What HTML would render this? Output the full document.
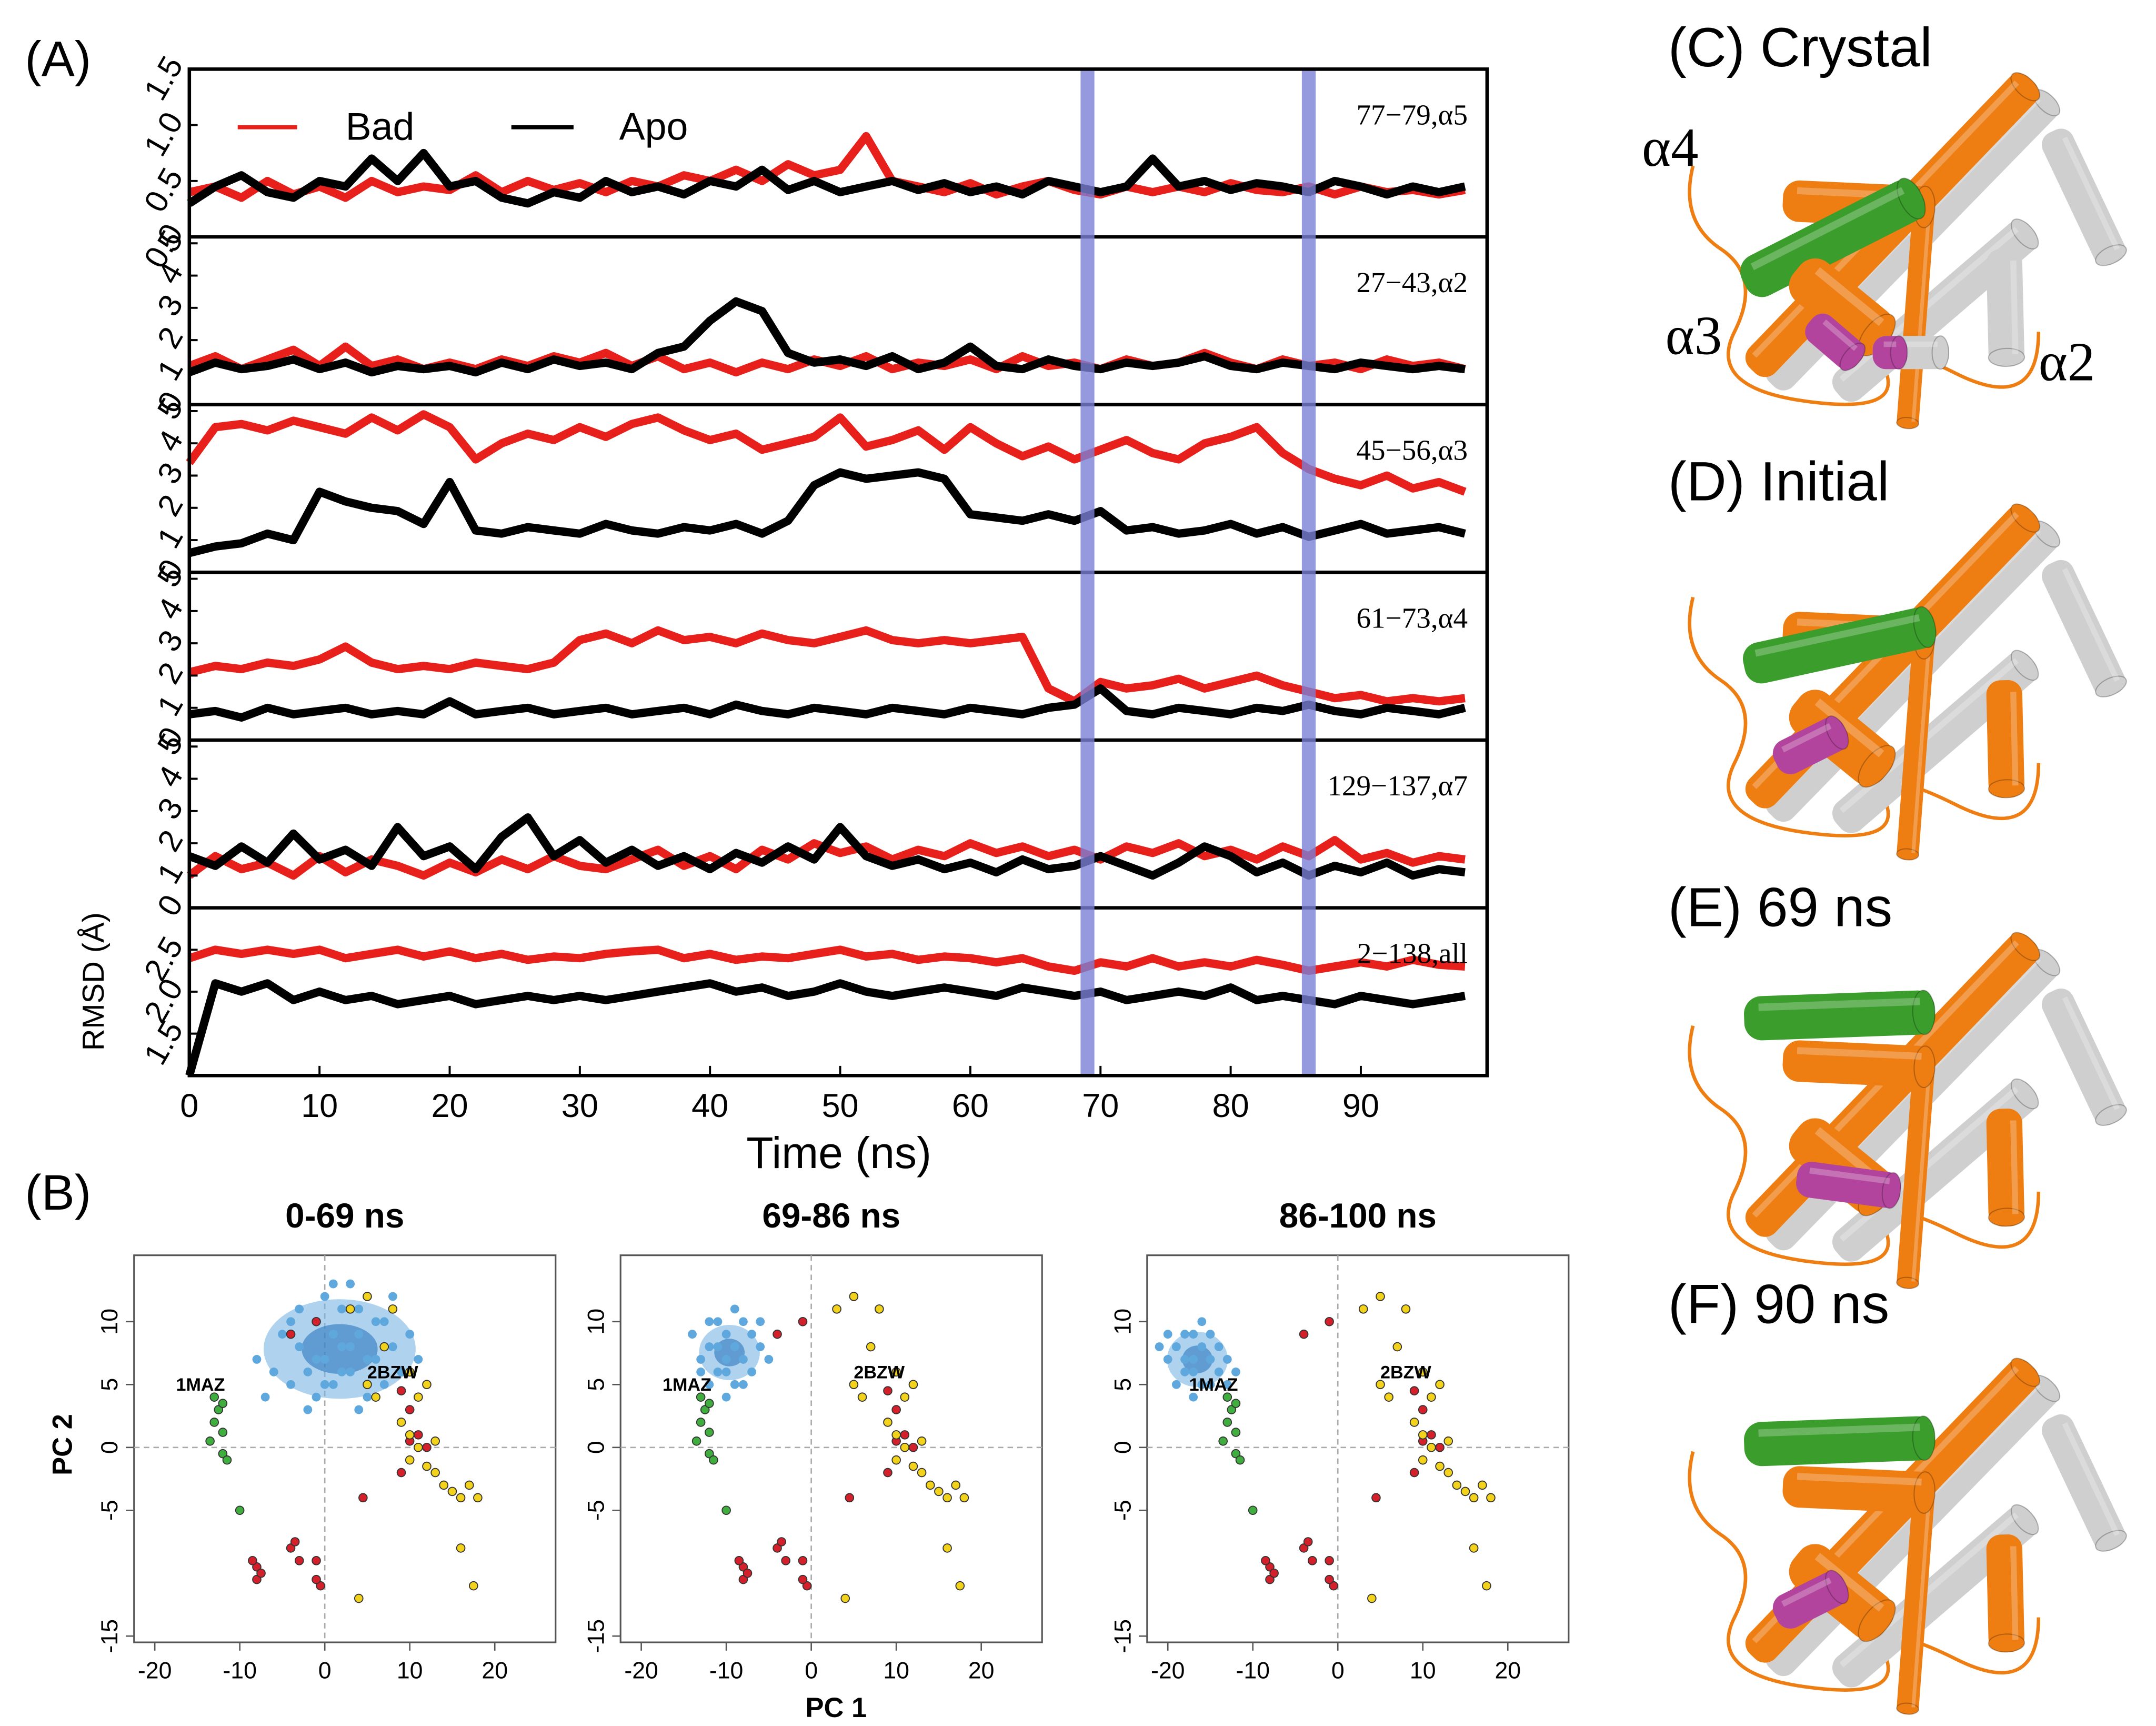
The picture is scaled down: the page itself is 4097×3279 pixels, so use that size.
<!DOCTYPE html>
<html><head><meta charset="utf-8"><style>
html,body{margin:0;padding:0;background:#fff;}
svg{display:block;font-family:"Liberation Sans",sans-serif;}
</style></head><body>
<svg id="fig" width="4097" height="3279" viewBox="0 0 1560 1248.5" xmlns="http://www.w3.org/2000/svg"></svg>
<script>
// ---------- Panel A data (t = 0,2,...,98 ns) ----------
const times=[0,2,4,6,8,10,12,14,16,18,20,22,24,26,28,30,32,34,36,38,40,42,44,46,48,50,52,54,56,58,60,62,64,66,68,70,72,74,76,78,80,82,84,86,88,90,92,94,96,98];
const a5Bad=[0.4,0.45,0.35,0.5,0.38,0.45,0.35,0.5,0.4,0.45,0.42,0.55,0.4,0.5,0.42,0.48,0.4,0.5,0.45,0.55,0.5,0.6,0.5,0.65,0.55,0.6,0.9,0.5,0.45,0.4,0.48,0.38,0.45,0.5,0.42,0.38,0.45,0.4,0.45,0.4,0.48,0.42,0.4,0.45,0.38,0.45,0.4,0.42,0.38,0.42];
const a5Apo=[0.3,0.45,0.55,0.4,0.35,0.5,0.45,0.7,0.5,0.75,0.45,0.5,0.35,0.3,0.4,0.35,0.5,0.4,0.45,0.38,0.5,0.45,0.6,0.42,0.5,0.4,0.45,0.5,0.42,0.48,0.4,0.45,0.38,0.5,0.45,0.4,0.45,0.7,0.45,0.5,0.42,0.48,0.45,0.4,0.5,0.45,0.38,0.45,0.4,0.45];
const a2Bad=[1.2,1.5,1.1,1.4,1.7,1.2,1.8,1.2,1.4,1.1,1.3,1.1,1.4,1.2,1.5,1.3,1.6,1.2,1.5,1.1,1.3,1.0,1.3,1.1,1.4,1.2,1.5,1.1,1.3,1.2,1.4,1.1,1.5,1.2,1.3,1.1,1.4,1.2,1.3,1.6,1.3,1.1,1.4,1.2,1.3,1.1,1.4,1.2,1.3,1.1];
const a2Apo=[1.0,1.3,1.1,1.2,1.4,1.1,1.3,1.0,1.2,1.1,1.2,1.0,1.3,1.1,1.4,1.2,1.3,1.1,1.6,1.8,2.6,3.2,2.9,1.6,1.3,1.4,1.2,1.5,1.1,1.3,1.8,1.2,1.1,1.4,1.2,1.1,1.3,1.2,1.3,1.5,1.2,1.1,1.3,1.2,1.1,1.3,1.2,1.1,1.2,1.1];
const a3Bad=[3.4,4.5,4.6,4.4,4.7,4.5,4.3,4.8,4.4,4.9,4.5,3.5,4.0,4.3,4.1,4.5,4.2,4.6,4.8,4.4,4.1,4.3,3.8,4.0,4.2,4.8,3.9,4.1,4.4,3.8,4.5,4.0,3.6,3.9,3.5,3.8,4.1,3.7,3.5,4.0,4.2,4.5,3.7,3.2,2.9,2.7,3.0,2.6,2.8,2.5];
const a3Apo=[0.6,0.8,0.9,1.2,1.0,2.5,2.2,2.0,1.9,1.5,2.8,1.3,1.2,1.4,1.3,1.2,1.5,1.3,1.2,1.4,1.3,1.5,1.2,1.6,2.7,3.1,2.9,3.0,3.1,2.9,1.8,1.7,1.6,1.8,1.6,1.9,1.3,1.4,1.2,1.3,1.5,1.2,1.4,1.1,1.3,1.5,1.2,1.3,1.4,1.2];
const a4Bad=[2.1,2.3,2.2,2.4,2.3,2.5,2.9,2.4,2.2,2.3,2.2,2.4,2.3,2.2,2.4,3.1,3.3,3.0,3.4,3.1,3.2,3.0,3.3,3.1,3.0,3.2,3.4,3.1,3.0,3.1,3.0,3.1,3.2,1.6,1.2,1.8,1.6,1.7,1.9,1.6,1.8,2.0,1.7,1.5,1.3,1.4,1.2,1.3,1.2,1.3];
const a4Apo=[0.8,0.9,0.7,1.0,0.8,0.9,1.0,0.8,0.9,0.8,1.2,0.8,0.9,1.0,0.8,0.9,1.0,0.8,0.9,1.0,0.8,1.1,0.9,0.8,1.0,0.9,0.8,1.0,0.9,0.8,1.0,0.9,0.8,1.0,1.1,1.6,0.9,0.8,1.0,0.9,0.8,1.0,0.9,1.1,0.9,0.8,1.0,0.9,0.8,1.0];
const a7Bad=[1.0,1.6,1.2,1.4,1.0,1.6,1.1,1.5,1.3,1.0,1.4,1.1,1.5,1.2,1.6,1.3,1.2,1.5,1.8,1.3,1.6,1.2,1.8,1.5,2.0,1.7,1.9,1.5,1.8,1.6,2.0,1.7,1.9,1.6,1.8,1.5,1.9,1.7,2.0,1.6,1.8,1.5,1.9,1.6,2.1,1.5,1.7,1.4,1.6,1.5];
const a7Apo=[1.6,1.3,1.9,1.4,2.3,1.5,1.8,1.3,2.5,1.6,1.9,1.2,2.2,2.8,1.6,2.1,1.4,1.8,1.3,1.6,1.2,1.7,1.4,1.9,1.5,2.5,1.6,1.3,1.5,1.2,1.4,1.1,1.5,1.2,1.3,1.6,1.3,1.0,1.4,1.9,1.6,1.1,1.4,1.0,1.3,1.1,1.4,1.0,1.2,1.1];
const allBad=[2.4,2.5,2.45,2.5,2.45,2.5,2.4,2.45,2.5,2.42,2.48,2.4,2.45,2.38,2.42,2.4,2.45,2.48,2.5,2.4,2.45,2.38,2.42,2.4,2.45,2.5,2.42,2.45,2.38,2.42,2.4,2.35,2.4,2.3,2.25,2.35,2.3,2.4,2.3,2.35,2.3,2.38,2.32,2.25,2.3,2.35,2.3,2.38,2.32,2.3];
const allApo=[1.0,2.1,2.0,2.1,1.9,2.0,1.9,1.95,1.85,1.9,1.95,1.85,1.9,1.95,1.9,1.95,1.9,1.95,2.0,2.05,2.1,2.0,2.05,1.95,2.0,2.1,2.0,1.95,2.0,2.05,2.0,1.95,2.05,2.0,1.95,2.0,1.9,1.95,2.0,1.95,2.05,1.9,1.95,1.9,1.85,1.95,1.9,1.85,1.9,1.95];
const panelLabels=["77\u221279,\u03b15","27\u221243,\u03b12","45\u221256,\u03b13","61\u221273,\u03b14","129\u2212137,\u03b17","2\u2212138,all"];
const xTicks=[0,10,20,30,40,50,60,70,80,90];
const bands=[69,86];
// ---------- Panel B data ----------
const greenPts=[[-13,4],[-12.5,3],[-13,2],[-12,1.2],[-13.5,0.5],[-12,-0.5],[-11.5,-1],[-12,3.5],[-10,-5]];
const redPts=[[-4,9],[-1,10],[9,4.5],[10,3],[11,1],[12,0],[10,0.5],[4.5,-4],[-8,-9.5],[-8,-10.5],[-7.5,-10],[-4,-8],[-3,-9],[-3.5,-7.5],[-1,-9],[-0.5,-11],[-1,-10.5],[9,-2],[-8.5,-9]];
const yellowPts=[[3,11],[5,12],[8,11],[7,8],[10,6],[11,4],[9,2],[10,1],[11,0],[10,-1],[12,-1.5],[13,-2],[14,-3],[15,-3.5],[17,-3],[16,-4],[18,-4],[16,-8],[17.5,-11],[4,-12],[5,5],[6,4],[12,5],[13,0.5]];
const blue1=[[0,7],[2,8],[-2,6],[4,9],[1,5],[3,6],[-3,8],[5,7],[6,10],[-1,10],[2,11],[-4,5],[7,5],[8,8],[-5,9],[0,12],[3,13],[-6,6],[9,6],[-7,4],[10,9],[5,12],[-2,3],[4,3],[8,12],[1,9],[-1,7],[2,6],[3,8],[0,5],[6,7],[-3,11],[7,10],[-8,7],[11,7],[1,13],[4,11],[-4,10],[5,4],[-1,4]];
const blue2=[[-10,7],[-9,8],[-11,6],[-8,7],[-12,8],[-10,9],[-9,5],[-7,9],[-13,7],[-11,10],[-8,10],[-6,8],[-12,5],[-10,4],[-14,9],[-7,6],[-9,11],[-11,8],[-10,6],[-8,5],[-5,7],[-13,6],[-12,10],[-6,10]];
const blue3=[[-17,7],[-16,8],[-18,6],[-15,7],[-19,8],[-17,9],[-16,5],[-14,8],[-20,7],[-18,9],[-15,5],[-13,7],[-19,5],[-17,4],[-21,8],[-14,6],[-16,10],[-18,7],[-15,9],[-12,6],[-20,9],[-17,6],[-13,5]];
const bTitles=["0-69 ns","69-86 ns","86-100 ns"];
const pcXTicks=[-20,-10,0,10,20];
const pcYTicks=[10,5,0,-5,-15];

const NS="http://www.w3.org/2000/svg";
const svg=document.getElementById('fig');
function mk(tag,attrs,parent){const e=document.createElementNS(NS,tag);for(const k in attrs)e.setAttribute(k,attrs[k]);(parent||svg).appendChild(e);return e;}
function txt(s,attrs,parent){const e=mk('text',attrs,parent);e.textContent=s;return e;}

// ---------- Panel A ----------
const L=137,R=1076,T=50,B=778,PH=(B-T)/6,XMAX=99.7;
const xs=t=>L+(R-L)*t/XMAX;
let e=txt("(A)",{x:18,y:55,"font-size":36});

const ranges=[[0,1.5],[0,5.2],[0,5.2],[0,5.2],[0,5.2],[1.0,3.0]];
const yTickSets=[[0,0.5,1.0,1.5],[0,1,2,3,4,5],[0,1,2,3,4,5],[0,1,2,3,4,5],[0,1,2,3,4,5],[1.5,2.0,2.5]];
const series=[[a5Bad,a5Apo],[a2Bad,a2Apo],[a3Bad,a3Apo],[a4Bad,a4Apo],[a7Bad,a7Apo],[allBad,allApo]];
const gA=mk('g',{});
series.forEach((pair,i)=>{
  const top=T+i*PH,bot=top+PH,[lo,hi]=ranges[i];
  const ys=v=>bot-(v-lo)/(hi-lo)*PH;
  const g=mk('g',{},gA);
  pair.forEach((arr,j)=>{
    const d=arr.map((v,k)=>(k?'L':'M')+xs(times[k]).toFixed(1)+','+ys(v).toFixed(1)).join('');
    const p=mk('path',{d:d,fill:'none',stroke:j?'#000':'#e8201c','stroke-width':j?6:6,'stroke-linejoin':'round'},g);
    
  });
  yTickSets[i].forEach(v=>{
    const y=ys(v);
    mk('line',{x1:L,x2:L+6,y1:y,y2:y,stroke:'#000','stroke-width':1.5},g);
    const s=(i===0||i===5)?v.toFixed(1):String(v);
    const t=txt(s,{x:L-6,y:y+7,"font-size":23,"text-anchor":"end",transform:`rotate(-60 ${L-14} ${y})`},g);
    
  });
  const lb=txt(panelLabels[i],{x:R-14,y:top+40,"font-size":21,"text-anchor":"end","font-family":"Liberation Serif, serif"},g);
  
  if(i>0){mk('line',{x1:L,x2:R,y1:top,y2:top,stroke:'#000','stroke-width':2.5},g);}
});
bands.forEach(b=>{const r=mk('rect',{x:xs(b)-5,y:T,width:10,height:B-T,fill:'#7b7fd6',opacity:0.8});
 });
let fr=mk('rect',{x:L,y:T,width:R-L,height:B-T,fill:'none',stroke:'#000','stroke-width':2.5});

xTicks.forEach(t=>{const x=xs(t);mk('line',{x1:x,x2:x,y1:B,y2:B-7,stroke:'#000','stroke-width':1.5});
 const l=txt(String(t),{x:x,y:808,"font-size":24,"text-anchor":"middle"});
 });
e=txt("Time (ns)",{x:607,y:845,"font-size":32,"text-anchor":"middle"});
e=txt("RMSD (Å)",{x:75,y:710,"font-size":22,"text-anchor":"middle",transform:"rotate(-90 75 710)"});
const lg=mk('g',{});
mk('line',{x1:172,x2:215,y1:92,y2:92,stroke:'#e8201c','stroke-width':3},lg);
e=txt("Bad",{x:250,y:101,"font-size":28},lg);
mk('line',{x1:370,x2:415,y1:92,y2:92,stroke:'#000','stroke-width':3},lg);
e=txt("Apo",{x:448,y:101,"font-size":28},lg);

// ---------- Panel B ----------
e=txt("(B)",{x:18,y:875,"font-size":36});
const frames=[97,449,830],FW=305,FT=908,FB=1188;
const blues=[blue1,blue2,blue3];
frames.forEach((fx,i)=>{
  const g=mk('g',{});
  const px=v=>fx+138+v*6.15, py=v=>1047-v*9.1;
  mk('rect',{x:fx,y:FT,width:FW,height:FB-FT,fill:'none',stroke:'#555','stroke-width':1.2},g);
  mk('line',{x1:fx,x2:fx+FW,y1:py(0),y2:py(0),stroke:'#aaa','stroke-dasharray':'4 3','stroke-width':1},g);
  mk('line',{x1:px(0),x2:px(0),y1:FT,y2:FB,stroke:'#aaa','stroke-dasharray':'4 3','stroke-width':1},g);
  const t=txt(bTitles[i],{x:fx+FW/2,y:888,"font-size":25,"font-weight":"bold","text-anchor":"middle"},g);
  
  pcXTicks.forEach(v=>{mk('line',{x1:px(v),x2:px(v),y1:FB,y2:FB+6,stroke:'#555'},g);
    const l=txt(String(v),{x:px(v),y:FB+26,"font-size":17,"text-anchor":"middle"},g);});
  pcYTicks.forEach(v=>{mk('line',{x1:fx-6,x2:fx,y1:py(v),y2:py(v),stroke:'#555'},g);
    const l=txt(String(v),{x:fx-12,y:py(v),"font-size":17,"text-anchor":"middle",transform:`rotate(-90 ${fx-12} ${py(v)})`},g);});
  const bl=blues[i];
  const cx=bl.reduce((s,p)=>s+p[0],0)/bl.length,cy=bl.reduce((s,p)=>s+p[1],0)/bl.length;
  const rx=i===0?55:22, ry=i===0?36:20;
  const cl=mk('ellipse',{cx:px(cx),cy:py(cy),rx:rx,ry:ry,fill:'#7ab6e4',opacity:0.6},g);
  mk('ellipse',{cx:px(cx),cy:py(cy),rx:rx*0.5,ry:ry*0.5,fill:'#1f6fb8',opacity:0.55},g);
  bl.forEach(p=>{const c=mk('circle',{cx:px(p[0]),cy:py(p[1]),r:3.2,fill:'#5fa8de'},g);});
  [[greenPts,'#3fae3f'],[redPts,'#d4202a'],[yellowPts,'#f2d21a']].forEach(([arr,col])=>arr.forEach(p=>{
    const c=mk('circle',{cx:px(p[0]),cy:py(p[1]),r:3,fill:col,stroke:'#333','stroke-width':0.7},g);
    }));
  let l=txt("1MAZ",{x:px(-17.5),y:py(4.5),"font-size":13,"font-weight":"bold"},g);
  l=txt("2BZW",{x:px(5),y:py(5.5),"font-size":13,"font-weight":"bold"},g);
});
e=txt("PC 1",{x:605,y:1242,"font-size":20,"font-weight":"bold","text-anchor":"middle"});
e=txt("PC 2",{x:52,y:1045,"font-size":20,"font-weight":"bold","text-anchor":"middle",transform:"rotate(-90 52 1045)"});

// ---------- Structure panels C-F ----------
function cyl(g,x1,y1,x2,y2,w,col){
  const len=Math.hypot(x2-x1,y2-y1),ang=Math.atan2(y2-y1,x2-x1)*180/Math.PI;
  const gg=mk('g',{transform:`translate(${x1} ${y1}) rotate(${ang})`},g);
  mk('rect',{x:0,y:-w/2,width:len,height:w,rx:w/2.5,fill:col},gg);
  mk('ellipse',{cx:len-w/4,cy:0,rx:w/4,ry:w/2,fill:col,stroke:'rgba(0,0,0,0.25)','stroke-width':0.8},gg);
  mk('rect',{x:w/3,y:-w/3,width:len-w/1.5,height:w/6,fill:'#fff',opacity:0.25},gg);}
const O='#ee7d12',G='#cfcfcf',GR='#3a9d2c',M='#b3449e';
const structs=[["(C) Crystal",0],["(D) Initial",312],["(E) 69 ns",622],["(F) 90 ns",930]];
const titleY=[48,362,670,957];
structs.forEach(([lab,oy],i)=>{
  const g=mk('g',{});
  const t=txt(lab,{x:1207,y:titleY[i],"font-size":40},g);
  const s=mk('g',{transform:`translate(0 ${oy})`},g);
  mk('path',{d:'M1225 120 q-10 40 20 60 t10 60 t50 50 t60 -20 t50 0 t60 -30',fill:'none',stroke:O,'stroke-width':2.5},s);
  cyl(s,1485,95,1530,190,24,G);
  cyl(s,1282,278,1485,70,24,G);
  cyl(s,1268,268,1470,58,26,O);
  cyl(s,1330,285,1470,165,26,G);
  cyl(s,1392,150,1380,310,16,O);
  cyl(s,1450,180,1452,265,26,i===0?G:O);
  cyl(s,1290,145,1400,150,30,O);
  if(i===0) cyl(s,1262,205,1390,140,32,GR);
  else if(i===1) cyl(s,1262,170,1400,140,30,GR);
  else cyl(s,1262,115,1400,110,32,GR);
  cyl(s,1300,195,1365,248,36,O);
  if(i===0){cyl(s,1310,232,1345,262,24,M);cyl(s,1355,255,1410,255,24,G);cyl(s,1355,255,1380,255,24,M);}
  else if(i===2) cyl(s,1300,230,1375,240,26,M);
  else cyl(s,1285,240,1335,215,26,M);
});
e=txt("\u03b14",{x:1188,y:120,"font-size":40,"font-family":"Liberation Serif, serif"});
e=txt("\u03b13",{x:1205,y:256,"font-size":40,"font-family":"Liberation Serif, serif"});
e=txt("\u03b12",{x:1475,y:275,"font-size":40,"font-family":"Liberation Serif, serif"});
</script>
</body></html>
